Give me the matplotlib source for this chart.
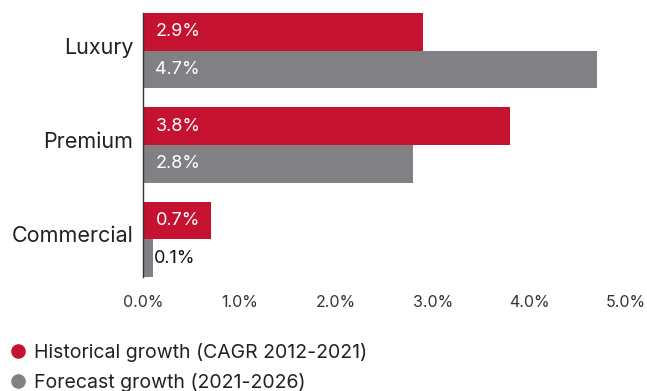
import numpy as np
import matplotlib.pyplot as plt
import matplotlib.transforms as mtransforms
from matplotlib.lines import Line2D

plt.rcParams['font.family'] = ['Inter', 'DejaVu Sans']

# Data
categories = ["Luxury", "Premium", "Commercial"]
historical = [2.9, 3.8, 0.7]
forecast = [4.7, 2.8, 0.1]
xticks = [0, 1, 2, 3, 4, 5]
series_names = ["Historical growth (CAGR 2012-2021)", "Forecast growth (2021-2026)"]

red = "#C41230"
gray = "#818085"

fig = plt.figure(figsize=(6.47, 3.91), dpi=100)
ax = fig.add_axes([0.221, 0.2916, 0.7465, 0.6752])

y = np.arange(len(categories))
h = 0.4
bars_h = ax.barh(y - h / 2, historical, height=h, color=red)
bars_f = ax.barh(y + h / 2, forecast, height=h, color=gray)

# value labels
for bars, vals in [(bars_h, historical), (bars_f, forecast)]:
    for b, v in zip(bars, vals):
        yc = b.get_y() + b.get_height() / 2
        if v >= 0.5:
            ax.annotate(f"{v:.1f}%", (0, yc), xytext=(9, 0), textcoords="offset points",
                        va="center", ha="left", color="white", fontsize=13)
        else:
            ax.annotate(f"{v:.1f}%", (v, yc), xytext=(1, 0), textcoords="offset points",
                        va="center", ha="left", color="#111111", fontsize=13)

ax.set_xlim(0, 5)
ax.set_ylim(2.4, -0.4)
ax.set_yticks(y)
ax.set_yticklabels(categories, fontsize=15.5, color="#222222")
ax.set_xticks(xticks)
ax.set_xticklabels([f"{t:.1f}%" for t in xticks], fontsize=11.5, color="#333333")
ax.tick_params(axis="both", length=0)
ax.tick_params(axis="x", pad=13)
ax.tick_params(axis="y", pad=7)

# nudge category labels up a little
shift = mtransforms.ScaledTranslation(0, 5 / 100, fig.dpi_scale_trans)
for lab in ax.get_yticklabels():
    lab.set_transform(lab.get_transform() + shift)

for s in ["top", "right", "bottom"]:
    ax.spines[s].set_visible(False)
ax.spines["left"].set_color("#333333")
ax.spines["left"].set_linewidth(1)

handles = [Line2D([], [], marker="o", linestyle="none", color=red, markersize=9.5),
           Line2D([], [], marker="o", linestyle="none", color=gray, markersize=9.5)]
fig.legend(handles, series_names, loc="upper left", bbox_to_anchor=(0.0, 0.142),
           frameon=False, fontsize=14, handlelength=1.0, handletextpad=0.35,
           labelspacing=0.55, borderaxespad=0, labelcolor="#222222")

fig.savefig("out.png", dpi=100)
